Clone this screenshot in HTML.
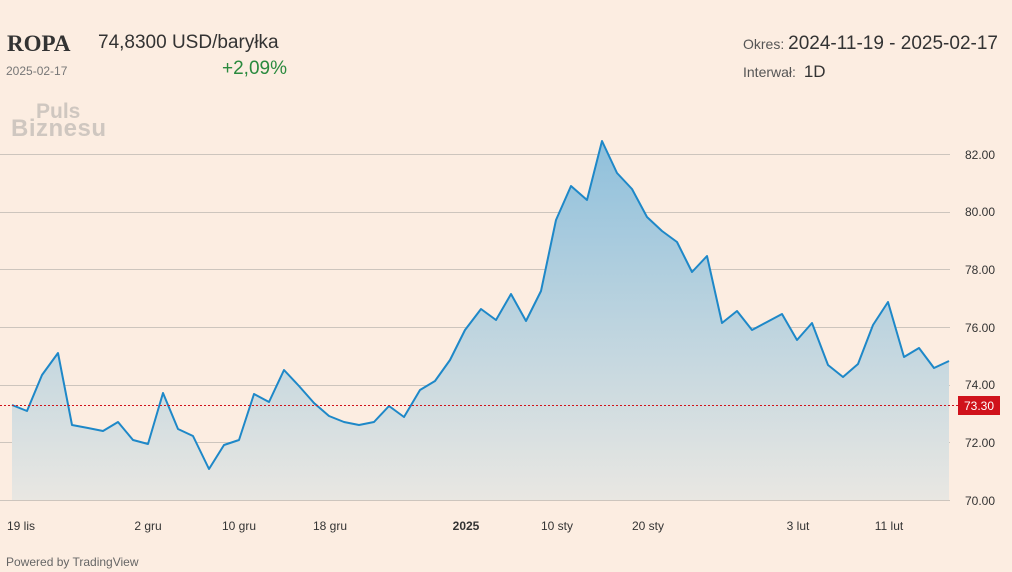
<!DOCTYPE html><html><head><style>
body{margin:0;background:#fcefe3;font-family:"Liberation Sans",sans-serif;}
.w{position:relative;width:1012px;height:572px;overflow:hidden;background:#fcede1;}
.t{position:absolute;white-space:nowrap}
</style></head><body><div class="w">
<div class="t" style="left:7px;top:31px;font:bold 23px 'Liberation Serif',serif;color:#333">ROPA</div>
<div class="t" style="left:6px;top:64px;font-size:12px;color:#777">2025-02-17</div>
<div class="t" style="left:98px;top:32px;font-size:19px;color:#333">74,8300 USD/baryłka</div>
<div class="t" style="left:222px;top:58px;font-size:19px;color:#2a8a3e">+2,09%</div>
<div class="t" style="left:36px;top:104px;font:bold 21px 'Liberation Sans',sans-serif;color:#cfc7c0;line-height:16px">Puls</div>
<div class="t" style="left:11px;top:119px;font:bold 24px 'Liberation Sans',sans-serif;color:#cfc7c0;line-height:20px;letter-spacing:0.5px">Biznesu</div>
<div class="t" style="left:743px;top:33px;font-size:14px;color:#555">Okres: <span style="font-size:19px;color:#333">2024-11-19 - 2025-02-17</span></div>
<div class="t" style="left:743px;top:62px;font-size:14px;color:#555">Interwał: <span style="font-size:17px;color:#333;margin-left:4px">1D</span></div>
<svg width="1012" height="572" style="position:absolute;left:0;top:0">
<defs><linearGradient id="g" x1="0" y1="141" x2="0" y2="500" gradientUnits="userSpaceOnUse"><stop offset="0" stop-color="#8fc0dc"/><stop offset="1" stop-color="#e9e7e2"/></linearGradient></defs>
<g stroke="#cdc5bd" stroke-width="1"><line x1="0" x2="950" y1="154.5" y2="154.5"/><line x1="0" x2="950" y1="212.5" y2="212.5"/><line x1="0" x2="950" y1="269.5" y2="269.5"/><line x1="0" x2="950" y1="327.5" y2="327.5"/><line x1="0" x2="950" y1="385.5" y2="385.5"/><line x1="0" x2="950" y1="442.5" y2="442.5"/><line x1="0" x2="950" y1="500.5" y2="500.5"/></g>
<path fill="url(#g)" d="M12,500 L12,405 27,411 42,375 58,353 72,425 88,428 103,431 118,422 133,440 148,444 163,393 178,429 193,436 209,469 224,445 239,440 254,394 269,402 284,370 299,386 314,403 329,416 344,422 359,425 374,422 389,406 404,417 420,390 435,381 450,360 465,330 481,309 496,320 511,294 526,321 541,291 556,220 571,186 587,200 602,141 617,173 632,189 647,217 662,231 677,242 692,272 707,256 722,323 737,311 752,330 767,322 782,314 797,340 812,323 828,365 843,377 858,364 873,325 888,302 904,357 919,348 934,368 949,361 L949,500Z"/>
<polyline fill="none" stroke="#1e88c8" stroke-width="2" stroke-linejoin="round" points="12,405 27,411 42,375 58,353 72,425 88,428 103,431 118,422 133,440 148,444 163,393 178,429 193,436 209,469 224,445 239,440 254,394 269,402 284,370 299,386 314,403 329,416 344,422 359,425 374,422 389,406 404,417 420,390 435,381 450,360 465,330 481,309 496,320 511,294 526,321 541,291 556,220 571,186 587,200 602,141 617,173 632,189 647,217 662,231 677,242 692,272 707,256 722,323 737,311 752,330 767,322 782,314 797,340 812,323 828,365 843,377 858,364 873,325 888,302 904,357 919,348 934,368 949,361"/>
<line x1="0" x2="958" y1="405.5" y2="405.5" stroke="#d0121b" stroke-width="1" stroke-dasharray="2,2"/>
<rect x="958" y="396" width="42" height="19" fill="#d0121b"/>
<text x="979" y="410" fill="#fff" font-size="12" text-anchor="middle" font-family="Liberation Sans">73.30</text>
<g font-size="12" fill="#333" font-family="Liberation Sans" text-anchor="middle">
<text x="980" y="159">82.00</text><text x="980" y="216">80.00</text><text x="980" y="274">78.00</text><text x="980" y="332">76.00</text><text x="980" y="389">74.00</text><text x="980" y="447">72.00</text><text x="980" y="505">70.00</text>
<text x="21" y="530">19 lis</text><text x="148" y="530">2 gru</text><text x="239" y="530">10 gru</text><text x="330" y="530">18 gru</text><text x="466" y="530" font-weight="bold">2025</text><text x="557" y="530">10 sty</text><text x="648" y="530">20 sty</text><text x="798" y="530">3 lut</text><text x="889" y="530">11 lut</text>
</g>
<text x="6" y="566" font-size="12" fill="#666" font-family="Liberation Sans">Powered by TradingView</text>
</svg></div></body></html>
